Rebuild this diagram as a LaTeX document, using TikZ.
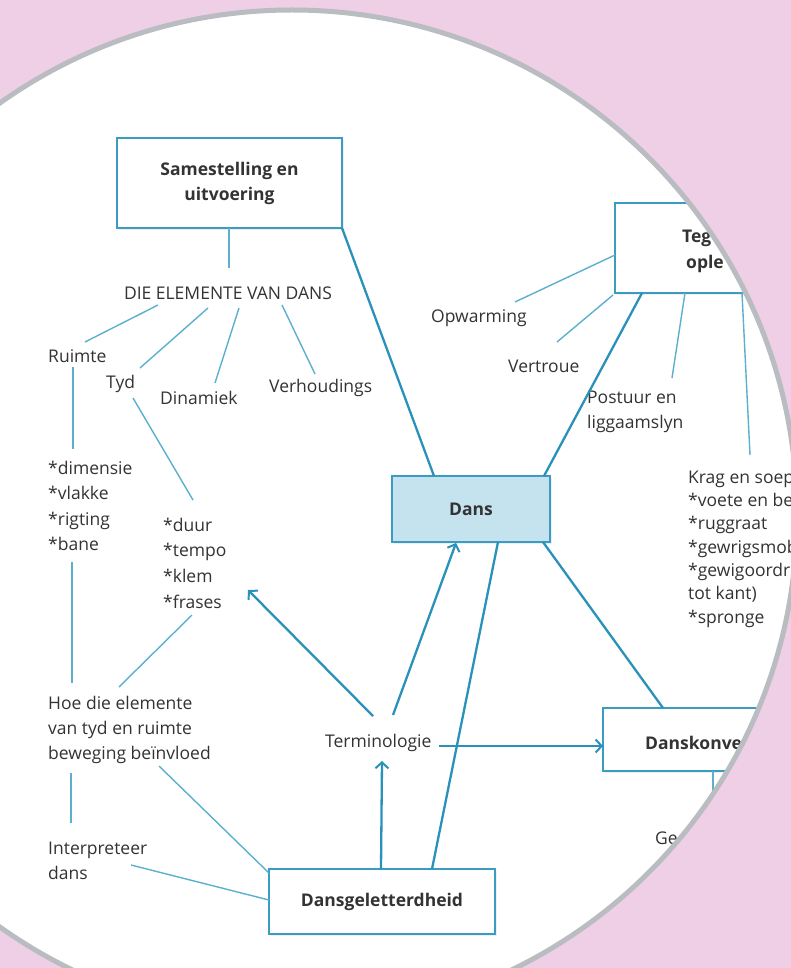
\documentclass[tikz,border=0pt]{standalone}
\usepackage{fontspec}
\setmainfont{Open Sans}
\usetikzlibrary{arrows.meta,shadows}
\definecolor{pinkbg}{HTML}{EECFE5}
\definecolor{rim}{HTML}{B9BCC0}
\definecolor{thickc}{HTML}{2A91BA}
\definecolor{thinc}{HTML}{5BB0CE}
\definecolor{boxline}{HTML}{3A9CC2}
\definecolor{dansfill}{HTML}{C5E2EF}
\definecolor{txt}{HTML}{333333}
\begin{document}
\begin{tikzpicture}[x=1pt,y=-1pt,
  lbl/.style={text=txt, font=\fontsize{17.5}{25.2}\selectfont, inner sep=0pt, align=left, anchor=west},
  blbl/.style={lbl, font=\fontsize{17.5}{25.2}\selectfont\bfseries},
  box/.style={draw=boxline, line width=2.3pt, fill=white, font=\fontsize{17.5}{25}\selectfont\bfseries, text=txt, align=center, inner sep=0pt, drop shadow={opacity=0.12,shadow xshift=2pt,shadow yshift=-2pt}},
  thinln/.style={draw=thinc, line width=1.4pt},
  thickln/.style={draw=thickc, line width=2.3pt},
  arr/.style={thickln, -{Straight Barb[length=6pt,width=13pt,line width=2pt]}},
]
\useasboundingbox (0,0) rectangle (791,968);
\fill[pinkbg] (0,0) rectangle (791,968);
\fill[white] (292,515) circle[radius=505];
\begin{scope}
\clip (292,515) circle[radius=505];
% boxes
\node[box, minimum width=225pt, minimum height=90pt] (sam) at (229.5,183) {Samestelling en\\uitvoering};
\node[box, minimum width=230pt, minimum height=90pt] (teg) at (730,248) {};
\node[blbl] (tegA) at (682,238) {Teg};
\node[blbl] (tegB) at (686,264) {ople};
\node[box, fill=dansfill, minimum width=158pt, minimum height=66pt] (dans) at (471,509) {Dans};
\node[box, minimum width=220pt, minimum height=63pt] (konv) at (713,739.5) {};
\node[blbl] (konvT) at (645,743) {Danskonve};
\node[box, minimum width=226pt, minimum height=65pt] (gel) at (382,901.5) {Dansgeletterdheid};
% labels
\node[lbl, anchor=center] (die) at (228,293) {DIE ELEMENTE VAN DANS};
\node[lbl] (ruimte) at (48,356) {Ruimte};
\node[lbl] (tyd) at (106,384) {Tyd};
\node[lbl] (dinamiek) at (160,398) {Dinamiek};
\node[lbl] (verh) at (269,388) {Verhoudings};
\node[lbl, font=\fontsize{17.5}{25.3}\selectfont] (dim) at (48,506) {*dimensie\\*vlakke\\*rigting\\*bane};
\node[lbl, font=\fontsize{17.5}{25.7}\selectfont] (duur) at (163,563) {*duur\\*tempo\\*klem\\*frases};
\node[lbl] (hoe) at (48,730) {Hoe die elemente\\van tyd en ruimte\\beweging beïnvloed};
\node[lbl] (interp) at (48,861) {Interpreteer\\dans};
\node[lbl] (term) at (325,743) {Terminologie};
\node[lbl] (opw) at (431,318) {Opwarming};
\node[lbl] (vert) at (508,366) {Vertroue};
\node[lbl] (post) at (587,412) {Postuur en\\liggaamslyn};
\node[lbl, font=\fontsize{17.5}{23.3}\selectfont] (krag) at (688,549) {Krag en soep\\*voete en be\\*ruggraat\\*gewrigsmob\\*gewigoordr\\tot kant)\\*spronge};
\node[lbl] (ge) at (655,838) {Ge};
% connector end points
\coordinate (samS) at (229,228);
\coordinate (dieN) at (229,268);
\coordinate (d1) at (158,305); \coordinate (ru1) at (85,342);
\coordinate (d2) at (208,308); \coordinate (ty1) at (140,368);
\coordinate (d3) at (239,308); \coordinate (di1) at (215,383);
\coordinate (d4) at (282,305); \coordinate (ve1) at (315,374);
\coordinate (ru2) at (73,367); \coordinate (dim1) at (73,449);
\coordinate (ty2) at (133,398); \coordinate (du1) at (193,500);
\coordinate (dim2) at (72,562); \coordinate (hoe1) at (72,683);
\coordinate (du2) at (192,615); \coordinate (hoe2) at (119,687);
\coordinate (hoe3) at (71,773); \coordinate (in1) at (71,823);
\coordinate (hoe4) at (159,766); \coordinate (gelNW) at (269,873);
\coordinate (in2) at (131,865); \coordinate (gelW) at (269,900);
\coordinate (tegW) at (615,255); \coordinate (opw1) at (515,302);
\coordinate (tegSW) at (613,295); \coordinate (ve2) at (557,342);
\coordinate (tegS1) at (685,293); \coordinate (po1) at (672,378);
\coordinate (tegS2) at (742,293); \coordinate (kr1) at (750,455);
\coordinate (konvS) at (713,771); \coordinate (konvD) at (713,830);
\coordinate (samSE) at (342,228); \coordinate (dansN1) at (434,476);
\coordinate (dansN2) at (544,476); \coordinate (tegS3) at (642,293);
\coordinate (dansSE) at (543,542); \coordinate (konvN) at (663,708);
\coordinate (gelN2) at (432,869); \coordinate (dansS2) at (498,542);
\coordinate (termE) at (439,746); \coordinate (konvW) at (603,746);
\coordinate (gelN1) at (381,869); \coordinate (termS) at (382,761);
\coordinate (termN1) at (393,715); \coordinate (dansS1) at (456,543);
\coordinate (termN2) at (373,716); \coordinate (du3) at (248,590);
% thin connectors
\draw[thinln] (samS) -- (dieN);
\draw[thinln] (d1) -- (ru1);
\draw[thinln] (d2) -- (ty1);
\draw[thinln] (d3) -- (di1);
\draw[thinln] (d4) -- (ve1);
\draw[thinln] (ru2) -- (dim1);
\draw[thinln] (ty2) -- (du1);
\draw[thinln] (dim2) -- (hoe1);
\draw[thinln] (du2) -- (hoe2);
\draw[thinln] (hoe3) -- (in1);
\draw[thinln] (hoe4) -- (gelNW);
\draw[thinln] (in2) -- (gelW);
\draw[thinln] (tegW) -- (opw1);
\draw[thinln] (tegSW) -- (ve2);
\draw[thinln] (tegS1) -- (po1);
\draw[thinln] (tegS2) -- (kr1);
\draw[thinln] (konvS) -- (konvD);
% thick connectors
\draw[thickln] (samSE) -- (dansN1);
\draw[thickln] (dansN2) -- (tegS3);
\draw[thickln] (dansSE) -- (konvN);
\draw[thickln] (gelN2) -- (dansS2);
\draw[arr] (termE) -- (konvW);
\draw[arr] (gelN1) -- (termS);
\draw[arr] (termN1) -- (dansS1);
\draw[arr] (termN2) -- (du3);
\end{scope}
\draw[rim, line width=5pt] (292,515) circle[radius=505];
\end{tikzpicture}
\end{document}
